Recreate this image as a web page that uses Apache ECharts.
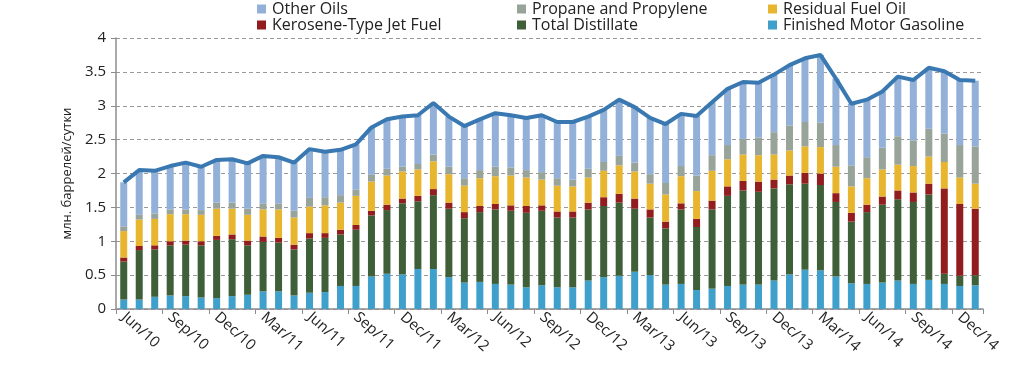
<!DOCTYPE html>
<html>
<head>
<meta charset="utf-8">
<script src="https://cdn.jsdelivr.net/npm/echarts@6/dist/echarts.min.js"></script>
<style>
  html, body { margin: 0; padding: 0; background: #fff; }
  #chart { width: 1023px; height: 375px; }
</style>
</head>
<body>
<div id="chart"></div>
<script>
const months = ['Jun/10','Jul/10','Aug/10','Sep/10','Oct/10','Nov/10','Dec/10',
  'Jan/11','Feb/11','Mar/11','Apr/11','May/11','Jun/11','Jul/11','Aug/11','Sep/11','Oct/11','Nov/11','Dec/11',
  'Jan/12','Feb/12','Mar/12','Apr/12','May/12','Jun/12','Jul/12','Aug/12','Sep/12','Oct/12','Nov/12','Dec/12',
  'Jan/13','Feb/13','Mar/13','Apr/13','May/13','Jun/13','Jul/13','Aug/13','Sep/13','Oct/13','Nov/13','Dec/13',
  'Jan/14','Feb/14','Mar/14','Apr/14','May/14','Jun/14','Jul/14','Aug/14','Sep/14','Oct/14','Nov/14','Dec/14',
  'Jan/15'];

const gasoline = [0.14,0.14,0.18,0.20,0.19,0.17,0.16,0.19,0.21,0.26,0.26,0.20,0.24,0.25,0.34,0.34,0.48,0.52,0.51,0.59,
  0.59,0.47,0.39,0.40,0.37,0.36,0.32,0.35,0.32,0.32,0.42,0.47,0.49,0.55,0.50,0.36,0.37,0.28,0.30,0.34,
  0.36,0.36,0.42,0.51,0.58,0.57,0.48,0.38,0.37,0.39,0.42,0.37,0.43,0.37,0.34,0.35];
const distillate = [0.56,0.73,0.70,0.74,0.76,0.77,0.86,0.84,0.73,0.73,0.72,0.68,0.80,0.80,0.76,0.83,0.90,0.94,1.05,1.00,
  1.09,1.01,0.95,1.03,1.10,1.09,1.10,1.10,1.03,1.03,1.05,1.05,1.08,0.93,0.85,0.83,1.10,0.93,1.17,1.33,
  1.39,1.37,1.36,1.33,1.27,1.26,1.10,0.91,1.06,1.15,1.20,1.21,1.26,0.15,0.15,0.15];
const kerosene = [0.06,0.06,0.06,0.06,0.06,0.06,0.06,0.07,0.07,0.08,0.07,0.07,0.08,0.07,0.07,0.07,0.07,0.08,0.07,0.08,
  0.09,0.09,0.09,0.09,0.08,0.08,0.10,0.08,0.09,0.09,0.10,0.13,0.13,0.15,0.12,0.10,0.09,0.12,0.13,0.14,
  0.14,0.15,0.13,0.13,0.16,0.17,0.13,0.13,0.11,0.12,0.13,0.14,0.16,1.26,1.06,0.98];
const residual = [0.39,0.39,0.39,0.40,0.39,0.39,0.40,0.38,0.38,0.40,0.42,0.40,0.39,0.41,0.40,0.43,0.43,0.43,0.40,0.39,
  0.41,0.42,0.39,0.41,0.41,0.44,0.42,0.38,0.38,0.37,0.37,0.39,0.42,0.40,0.38,0.40,0.40,0.41,0.44,0.40,
  0.39,0.39,0.37,0.37,0.39,0.39,0.39,0.39,0.39,0.40,0.38,0.39,0.40,0.39,0.39,0.37];
const propane = [0.07,0.07,0.08,0.07,0.07,0.07,0.09,0.09,0.09,0.09,0.09,0.10,0.13,0.12,0.11,0.09,0.10,0.10,0.07,0.08,
  0.10,0.11,0.11,0.12,0.14,0.12,0.11,0.11,0.11,0.10,0.13,0.13,0.14,0.13,0.14,0.17,0.15,0.23,0.23,0.21,
  0.23,0.26,0.33,0.37,0.36,0.36,0.32,0.31,0.31,0.32,0.42,0.38,0.41,0.42,0.48,0.55];
const otherOils = [0.65,0.66,0.63,0.64,0.69,0.64,0.63,0.64,0.67,0.70,0.68,0.71,0.72,0.67,0.67,0.67,0.70,0.73,0.74,0.72,
  0.76,0.74,0.77,0.75,0.79,0.77,0.77,0.84,0.83,0.85,0.77,0.77,0.83,0.82,0.83,0.87,0.77,0.88,0.78,0.83,
  0.84,0.81,0.85,0.89,0.94,1.00,0.98,0.91,0.85,0.83,0.88,0.89,0.90,0.92,0.96,0.97];
const total = [1.87,2.05,2.04,2.11,2.16,2.10,2.20,2.21,2.15,2.26,2.24,2.16,2.36,2.32,2.35,2.43,2.68,2.80,2.84,2.86,
  3.04,2.84,2.70,2.80,2.89,2.86,2.82,2.86,2.76,2.76,2.84,2.94,3.09,2.98,2.82,2.73,2.88,2.85,3.05,3.25,
  3.35,3.34,3.46,3.60,3.70,3.75,3.40,3.03,3.09,3.21,3.43,3.38,3.56,3.51,3.38,3.37];
const yTicks = [0, 0.5, 1, 1.5, 2, 2.5, 3, 3.5, 4];

const FONT = 'Open Sans';
const colors = {
  'Finished Motor Gasoline': '#3fa0cc',
  'Total Distillate': '#3e5f37',
  'Kerosene-Type Jet Fuel': '#911d1f',
  'Residual Fuel Oil': '#e8b62e',
  'Propane and Propylene': '#98a39a',
  'Other Oils': '#93b1d8'
};
const stackSeries = [
  ['Finished Motor Gasoline', gasoline],
  ['Total Distillate', distillate],
  ['Kerosene-Type Jet Fuel', kerosene],
  ['Residual Fuel Oil', residual],
  ['Propane and Propylene', propane],
  ['Other Oils', otherOils]
];
const legendPos = {
  'Other Oils': [257, 1],
  'Propane and Propylene': [517, 1],
  'Residual Fuel Oil': [768, 1],
  'Kerosene-Type Jet Fuel': [257, 17],
  'Total Distillate': [517, 17],
  'Finished Motor Gasoline': [768, 17]
};

const chart = echarts.init(document.getElementById('chart'), null, { renderer: 'canvas' });
const series = stackSeries.map(([name, data]) => ({
  name, type: 'bar', stack: 'all', data, barWidth: 7,
  itemStyle: { color: colors[name] }, z: 2
}));
series.push({
  name: 'Total', type: 'line', data: total, symbol: 'none',
  lineStyle: { color: '#3a78b1', width: 4 }, z: 5, silent: true
});

chart.setOption({
  animation: false,
  textStyle: { fontFamily: FONT },
  grid: { left: 116, right: 40, top: 38, bottom: 66 },
  legend: Object.keys(legendPos).map(n => ({
    data: [n], left: legendPos[n][0], top: legendPos[n][1],
    icon: 'rect', itemWidth: 9, itemHeight: 9, itemGap: 5, padding: 0,
    textStyle: { fontFamily: FONT, fontSize: 16, color: '#222', padding: [0,0,0,1] }
  })),
  xAxis: {
    type: 'category', data: months, boundaryGap: true,
    axisLine: { lineStyle: { color: '#8c8c8c', width: 1.5 } },
    axisTick: { show: true, interval: 2, length: 5, lineStyle: { color: '#8c8c8c' } },
    axisLabel: { interval: 2, rotate: -42, fontSize: 15, color: '#222', fontFamily: FONT, margin: 6 }
  },
  yAxis: {
    type: 'value', min: 0, max: 4, interval: 0.5,
    name: 'млн. баррелей/сутки', nameLocation: 'middle', nameRotate: 90, nameGap: 40,
    nameTextStyle: { fontSize: 13, color: '#222', fontFamily: FONT },
    axisLine: { show: true, lineStyle: { color: '#8c8c8c', width: 1.5 } },
    axisTick: { show: true, length: 5, lineStyle: { color: '#8c8c8c' } },
    axisLabel: { fontSize: 15, color: '#222', fontFamily: FONT, margin: 10,
      formatter: v => yTicks.indexOf(v) >= 0 ? String(v) : '' },
    splitLine: { show: true, lineStyle: { color: '#9a9a9a', type: [4, 3], width: 1 } }
  },
  series
});
</script>
</body>
</html>
